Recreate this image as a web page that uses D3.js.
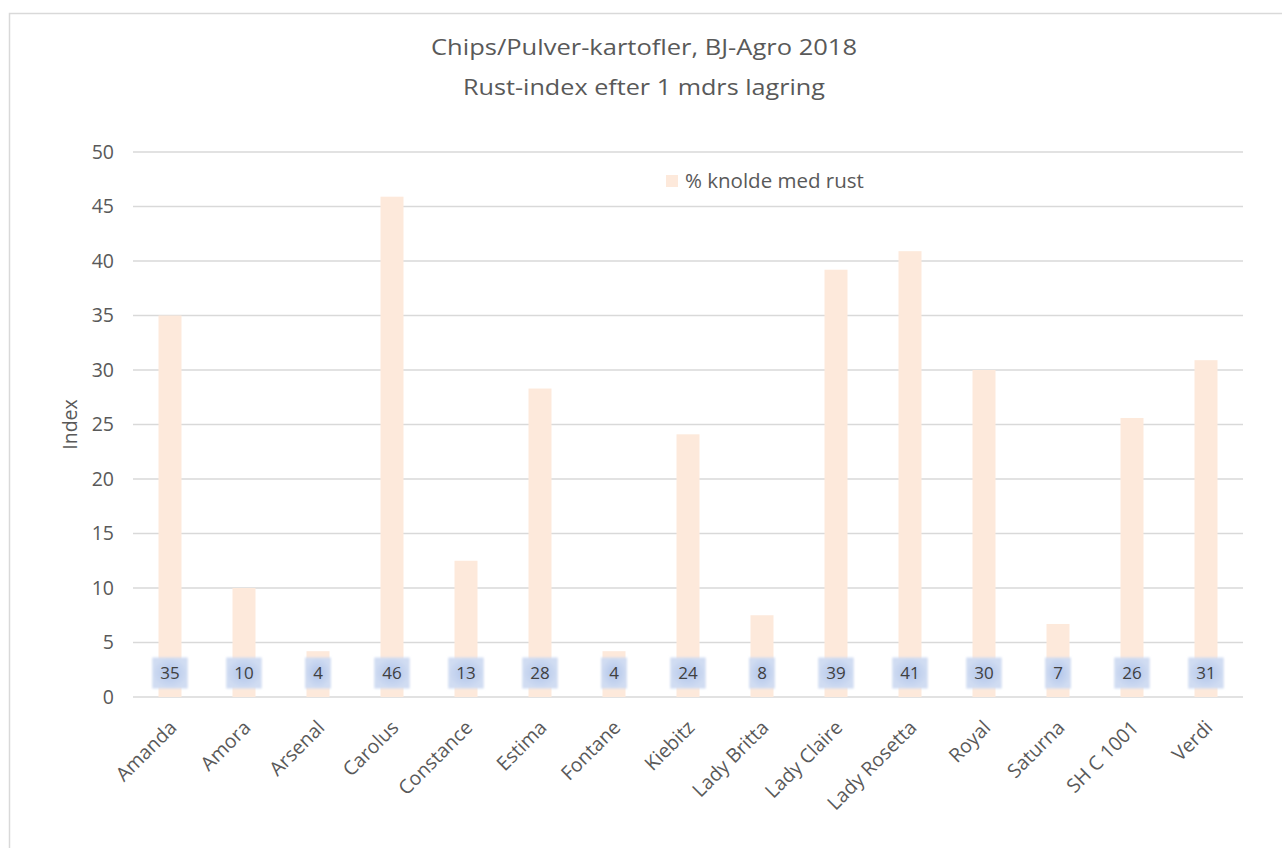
<!DOCTYPE html>
<html>
<head>
<meta charset="utf-8">
<title>Rust-index</title>
<script src="https://cdn.jsdelivr.net/npm/d3@7"></script>
<style>
  body { margin: 0; background: #fff; }
  text { font-family: "Open Sans", sans-serif; }
</style>
</head>
<body>
<script>
// data
const sorter = ["Amanda", "Amora", "Arsenal", "Carolus", "Constance", "Estima", "Fontane", "Kiebitz",
  "Lady Britta", "Lady Claire", "Lady Rosetta", "Royal", "Saturna", "SH C 1001", "Verdi"];
const rustIndex = [35, 10, 4.2, 45.9, 12.5, 28.3, 4.2, 24.1, 7.5, 39.2, 40.9, 30, 6.7, 25.6, 30.9];
const yTicks = [0, 5, 10, 15, 20, 25, 30, 35, 40, 45, 50];
const titleLines = ["Chips/Pulver-kartofler, BJ-Agro 2018", "Rust-index efter 1 mdrs lagring"];
const seriesName = "% knolde med rust";

const W = 1282, H = 848;
const plotL = 133, plotR = 1243, plotT = 152, plotB = 697;
const grey = "#595959";

const svg = d3.select("body").append("svg")
  .attr("width", W).attr("height", H);

// frame
svg.append("rect")
  .attr("x", 9.5).attr("y", 13.5)
  .attr("width", W + 10).attr("height", H + 10)
  .attr("fill", "#fff").attr("stroke", "#d9d9d9").attr("stroke-width", 1.5);

const x = d3.scaleBand().domain(sorter).range([plotL, plotR]);
const y = d3.scaleLinear().domain([0, 50]).range([plotB, plotT]);

// gridlines
svg.append("g").selectAll("line")
  .data(yTicks).join("line")
  .attr("x1", plotL).attr("x2", plotR)
  .attr("y1", d => y(d)).attr("y2", d => y(d))
  .attr("stroke", "#d9d9d9").attr("stroke-width", 1.5);

// y axis labels
svg.append("g").selectAll("text")
  .data(yTicks).join("text")
  .attr("x", 114).attr("y", d => y(d))
  .attr("dy", "0.35em")
  .attr("text-anchor", "end")
  .attr("font-size", 19.5).attr("fill", grey)
  .text(d => d);

svg.append("text")
  .attr("transform", `translate(77,${(plotT + plotB) / 2}) rotate(-90)`)
  .attr("text-anchor", "middle")
  .attr("font-size", 19.5).attr("fill", grey)
  .text("Index");

// bars
const barW = 23;
svg.append("g").selectAll("rect")
  .data(rustIndex).join("rect")
  .attr("x", (d, i) => x(sorter[i]) + x.bandwidth() / 2 - barW / 2)
  .attr("y", d => y(d))
  .attr("width", barW)
  .attr("height", d => plotB - y(d))
  .attr("fill", "#fde9db");

// glow labels
const defs = svg.append("defs");
const grad = defs.append("radialGradient").attr("id", "glow");
grad.append("stop").attr("offset", "0%").attr("stop-color", "#b0c4ea");
grad.append("stop").attr("offset", "100%").attr("stop-color", "#d0dcf2");
defs.append("filter").attr("id", "soft")
  .append("feGaussianBlur").attr("stdDeviation", 0.9);

const labY = y(2.2);
const labs = svg.append("g").selectAll("g")
  .data(rustIndex).join("g")
  .attr("transform", (d, i) => `translate(${x(sorter[i]) + x.bandwidth() / 2},${labY})`);
labs.append("text")
  .attr("text-anchor", "middle").attr("dy", "0.36em")
  .attr("font-size", 17).attr("fill", "#404040")
  .text(d => Math.round(d));
labs.each(function () {
  const g = d3.select(this);
  const tw = g.select("text").node().getComputedTextLength();
  g.insert("rect", "text")
    .attr("x", -(tw + 16) / 2).attr("y", -15.5)
    .attr("width", tw + 16).attr("height", 31)
    .attr("fill", "url(#glow)")
    .attr("filter", "url(#soft)");
});

// x axis labels
svg.append("g").selectAll("text")
  .data(sorter).join("text")
  .attr("transform", d => `translate(${x(d) + x.bandwidth() / 2 + 3},${plotB + 27}) rotate(-45)`)
  .attr("text-anchor", "end")
  .attr("dy", "0.35em")
  .attr("font-size", 19.5).attr("fill", grey)
  .text(d => d);

// title
svg.append("g").selectAll("text")
  .data(titleLines).join("text")
  .attr("x", 644).attr("y", (d, i) => 55 + i * 40)
  .attr("text-anchor", "middle")
  .attr("font-size", 22).attr("fill", grey)
  .attr("textLength", (d, i) => i === 0 ? 426 : 362)
  .attr("lengthAdjust", "spacingAndGlyphs")
  .text(d => d);

// legend
svg.append("rect")
  .attr("x", 666).attr("y", 175).attr("width", 12).attr("height", 12)
  .attr("fill", "#fde9db");
svg.append("text")
  .attr("x", 685).attr("y", 181).attr("dy", "0.35em")
  .attr("font-size", 20.5).attr("fill", grey)
  .text(seriesName);
</script>
</body>
</html>
